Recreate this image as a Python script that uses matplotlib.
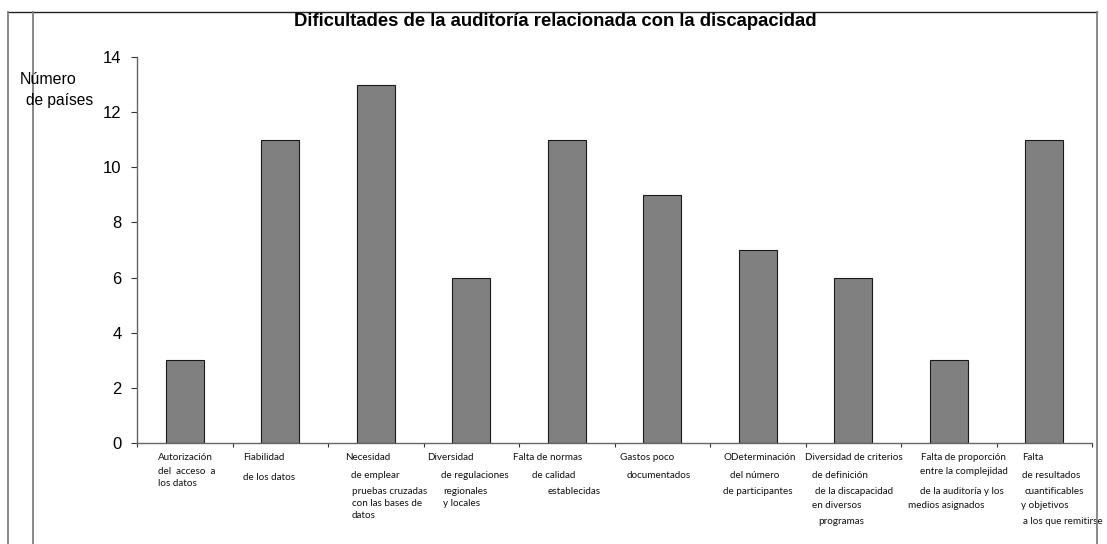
import matplotlib
matplotlib.use("Agg")
import matplotlib.pyplot as plt
from matplotlib.lines import Line2D

# ---------------- data ----------------
title = "Dificultades de la auditoría relacionada con la discapacidad"
ylabel_lines = ["Número", "de países"]
category_lines = [
    ["Autorización", "del  acceso  a", "los datos"],
    ["Fiabilidad", "de los datos"],
    ["Necesidad", "de emplear", "pruebas cruzadas", "con las bases de", "datos"],
    ["Diversidad", "de regulaciones", "regionales", "y locales"],
    ["Falta de normas", "de calidad", "establecidas"],
    ["Gastos poco", "documentados"],
    ["ODeterminación", "del número", "de participantes"],
    ["Diversidad de criterios", "de definición", "de la discapacidad", "en diversos", "programas"],
    ["Falta de proporción", "entre la complejidad", "de la auditoría y los", "medios asignados"],
    ["Falta", "de resultados", "cuantificables", "y objetivos", "a los que remitirse"],
]
values = [3, 11, 13, 6, 11, 9, 7, 6, 3, 11]
yticks = [0, 2, 4, 6, 8, 10, 12, 14]

# ---------------- layout (pixel offsets of label lines from category left edge / axis bottom) ----
label_dx = [
    [21, 21, 21],
    [10.5, 10.5],
    [17, 22.7, 24, 24, 24],
    [3.5, 17.2, 19.5, 19.5],
    [-6, 13, 29],
    [5.5, 12.5],
    [13, 20, 13],
    [-0.5, 6.5, 9.5, 6.5, 12.5],
    [20, 19, 19, 7],
    [25.5, 25.5, 28.5, 24.5, 26.5],
]
label_dy = [
    [14, 29, 40],
    [14, 34],
    [14, 32, 49, 60, 73],
    [14, 32, 49, 60],
    [14, 32, 49],
    [14, 32],
    [14, 32, 49],
    [14, 32, 49, 62, 79],
    [14, 29, 49, 62],
    [14, 32, 49, 62, 79],
]

W, H, DPI = 1107, 544, 100
PT = 72.0 / DPI  # points per pixel

fig = plt.figure(figsize=(W / DPI, H / DPI), dpi=DPI)
ax = fig.add_axes([137 / W, 1 - 443 / H, (1092 - 137) / W, (443 - 57) / H])

n = len(values)
x = list(range(n))
ax.bar(x, values, width=0.4, color="#808080", edgecolor="#1a1a1a", linewidth=0.8)

ax.set_xlim(-0.5, n - 0.5)
ax.set_ylim(0, 14)
ax.set_yticks(yticks)
ax.set_yticklabels([str(v) for v in yticks], fontsize=12, family="Liberation Sans")
ax.set_xticks([i - 0.5 for i in range(n + 1)])
ax.set_xticklabels([])
ax.tick_params(axis="y", direction="out", length=4.5, width=0.8, pad=6.5, color="#333333")
ax.tick_params(axis="x", direction="out", length=3, width=0.8, color="#333333")
for s in ["top", "right"]:
    ax.spines[s].set_visible(False)
for s in ["left", "bottom"]:
    ax.spines[s].set_color("#666666")
    ax.spines[s].set_linewidth(1.0)

# category labels
for i, lines in enumerate(category_lines):
    for j, line in enumerate(lines):
        ax.annotate(line, xy=(i - 0.5, 0), xycoords="data",
                    xytext=(label_dx[i][j] * PT, -label_dy[i][j] * PT),
                    textcoords="offset points", ha="left", va="center",
                    fontsize=7.1, family="Lato", color="#111111",
                    annotation_clip=False)

# frame lines
fig.add_artist(Line2D([8 / W, 1097 / W], [1 - 12 / H, 1 - 12 / H],
                      transform=fig.transFigure, color="#222222", linewidth=1.0, zorder=1))
for xp in (8, 33, 1097):
    fig.add_artist(Line2D([xp / W, xp / W], [0, 1 - 12 / H],
                          transform=fig.transFigure, color="#808080", linewidth=1.3, zorder=1))

# title
fig.text(555 / W, 1 - 21 / H, title, ha="center", va="center",
         fontsize=13.35, fontweight="bold", family="Liberation Sans", zorder=5)

# y label
fig.text(20 / W, 1 - 80 / H, ylabel_lines[0], ha="left", va="center",
         fontsize=11.5, family="Liberation Sans", zorder=5)
fig.text(26 / W, 1 - 100 / H, ylabel_lines[1], ha="left", va="center",
         fontsize=11.2, family="Liberation Sans", zorder=5)

fig.savefig("out.png", dpi=DPI)
